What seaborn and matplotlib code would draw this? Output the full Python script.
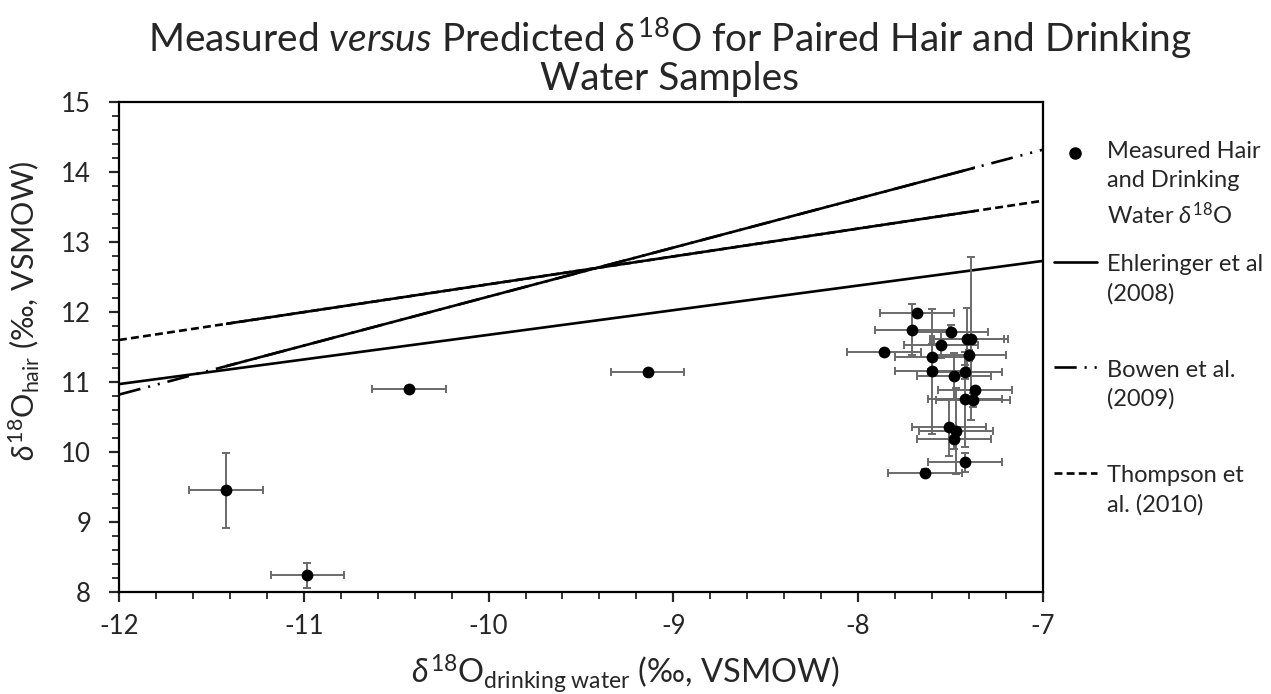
import numpy as np
import pandas as pd
import seaborn as sns
import matplotlib.pyplot as plt
from matplotlib.lines import Line2D
from matplotlib.patches import Rectangle
from matplotlib.ticker import MultipleLocator
from matplotlib.transforms import blended_transform_factory
from matplotlib.legend_handler import HandlerLine2D

# measured pairs (drinking water vs hair)
water_d18o = [-11.42, -10.98, -10.43, -9.14, -7.68, -7.71, -7.86, -7.50, -7.41, -7.39,
              -7.55, -7.60, -7.40, -7.60, -7.48, -7.42, -7.37, -7.42, -7.38, -7.51,
              -7.47, -7.48, -7.42, -7.64]
hair_d18o = [9.45, 8.24, 10.90, 11.14, 11.98, 11.75, 11.43, 11.71, 11.62, 11.62,
             11.53, 11.35, 11.38, 11.15, 11.08, 11.14, 10.88, 10.75, 10.74, 10.35,
             10.30, 10.19, 9.85, 9.70]
water_err = [0.20] * 24
hair_err = [0.54, 0.18, 0.04, 0.04, 0.04, 0.37, 0.04, 0.10, 0.44, 1.17,
            0.19, 0.20, 0.08, 0.90, 0.33, 0.10, 0.05, 0.68, 0.10, 0.41,
            0.62, 0.15, 0.13, 0.05]

# model lines (end points at x = -12 and -7)
model_x = [-12, -7]
ehleringer_y = [10.97, 12.73]
bowen_y = [10.82, 14.32]
thompson_y = [11.60, 13.59]

df = pd.DataFrame({'water': water_d18o, 'hair': hair_d18o})

sns.set_theme(style='white')
plt.rcParams['font.family'] = ['Lato', 'DejaVu Sans']
plt.rcParams['mathtext.fontset'] = 'custom'
plt.rcParams['mathtext.rm'] = 'Lato'
plt.rcParams['mathtext.it'] = 'Lato:italic'
plt.rcParams['mathtext.bf'] = 'Lato:bold'
plt.rcParams['axes.unicode_minus'] = False

fig = plt.figure(figsize=(12.71, 6.94), dpi=100)
ax = fig.add_axes([0.0936, 0.147, 0.727, 0.706])

lw = 1.9
bowen_dash = (8.4, 3.0, 0.8, 3.0, 0.8, 3.0)
thompson_dash = (3.0, 1.6)

# solid part only over the range of the measured data
clip_tr = blended_transform_factory(ax.transData, ax.transAxes)
xmin, xmax = min(water_d18o), max(water_d18o)

sns.lineplot(x=model_x, y=ehleringer_y, color='black', linewidth=lw, ax=ax)

sns.lineplot(x=model_x, y=bowen_y, color='black', linewidth=lw, ax=ax)
ax.lines[-1].set_dashes(bowen_dash)
sns.lineplot(x=model_x, y=bowen_y, color='black', linewidth=lw, ax=ax)
ax.lines[-1].set_clip_path(Rectangle((xmin, 0), xmax - xmin, 1, transform=clip_tr))

sns.lineplot(x=model_x, y=thompson_y, color='black', linewidth=lw, ax=ax)
ax.lines[-1].set_dashes(thompson_dash)
sns.lineplot(x=model_x, y=thompson_y, color='black', linewidth=lw, ax=ax)
ax.lines[-1].set_clip_path(Rectangle((xmin, 0), xmax - xmin, 1, transform=clip_tr))

ax.errorbar(water_d18o, hair_d18o, xerr=water_err, yerr=hair_err, fmt='none',
            ecolor='#6a6a6a', elinewidth=1.4, capsize=2.6, capthick=1.4, zorder=3)
sns.scatterplot(data=df, x='water', y='hair', color='black', s=72, linewidth=0,
                zorder=4, ax=ax)

ax.set_xlim(-12, -7)
ax.set_ylim(8, 15)
ax.xaxis.set_major_locator(MultipleLocator(1))
ax.xaxis.set_minor_locator(MultipleLocator(0.2))
ax.yaxis.set_major_locator(MultipleLocator(1))
ax.yaxis.set_minor_locator(MultipleLocator(0.2))
ax.tick_params(which='major', direction='out', length=7, width=1.6, labelsize=18.5,
               bottom=True, left=True, top=False, right=False)
ax.tick_params(which='minor', direction='out', length=4.8, width=1.3,
               bottom=True, left=True, top=False, right=False)
ax.tick_params(axis='x', which='major', pad=9)
ax.tick_params(axis='y', which='major', pad=13)
for sp in ax.spines.values():
    sp.set_color('black')
    sp.set_linewidth(1.6)

ax.set_xlabel(r'$\delta^{18}$O$_{\rm drinking\ water}$ (‰, VSMOW)', fontsize=23.5)
ax.set_ylabel(r'$\delta^{18}$O$_{\rm hair}$ (‰, VSMOW)', fontsize=22)
ax.xaxis.set_label_coords(0.548, -0.124)
ax.yaxis.set_label_coords(-0.083, 0.575)

fig.text(0.527, 0.978,
         'Measured $\\it{versus}$ Predicted $\\delta^{18}$O for Paired Hair and Drinking\nWater Samples',
         ha='center', va='top', fontsize=28, linespacing=1.0)


class FirstLineHandler(HandlerLine2D):
    # put the legend sample level with the first text line
    def __init__(self, shift, **kw):
        super().__init__(**kw)
        self.shift = shift

    def create_artists(self, legend, orig_handle, xdescent, ydescent, width,
                       height, fontsize, trans):
        arts = super().create_artists(legend, orig_handle, xdescent, ydescent,
                                      width, height, fontsize, trans)
        for a in arts:
            a.set_ydata(np.asarray(a.get_ydata()) + self.shift)
        return arts


h_meas = Line2D([], [], color='black', marker='o', linestyle='none', markersize=8)
h_ehl = Line2D([], [], color='black', linewidth=lw)
h_bow = Line2D([], [], color='black', linewidth=lw, dashes=bowen_dash)
h_tho = Line2D([], [], color='black', linewidth=lw, dashes=thompson_dash)
labels = ['Measured Hair\nand Drinking\nWater $\\delta^{18}$O',
          'Ehleringer et al\n(2008)\n ',
          'Bowen et al.\n(2009)\n ',
          'Thompson et\nal. (2010)\n ']
shift = 23
hm = {h: FirstLineHandler(shift) for h in [h_meas, h_ehl, h_bow, h_tho]}
leg = fig.legend([h_meas, h_ehl, h_bow, h_tho], labels, handler_map=hm,
                 loc='upper left', bbox_to_anchor=(0.822, 0.810), frameon=False,
                 fontsize=17, handlelength=1.8, handletextpad=0.45,
                 labelspacing=1.12, numpoints=1, borderaxespad=0)
for t in leg.get_texts():
    t.set_linespacing(1.45)

fig.savefig('out.png', dpi=100)
